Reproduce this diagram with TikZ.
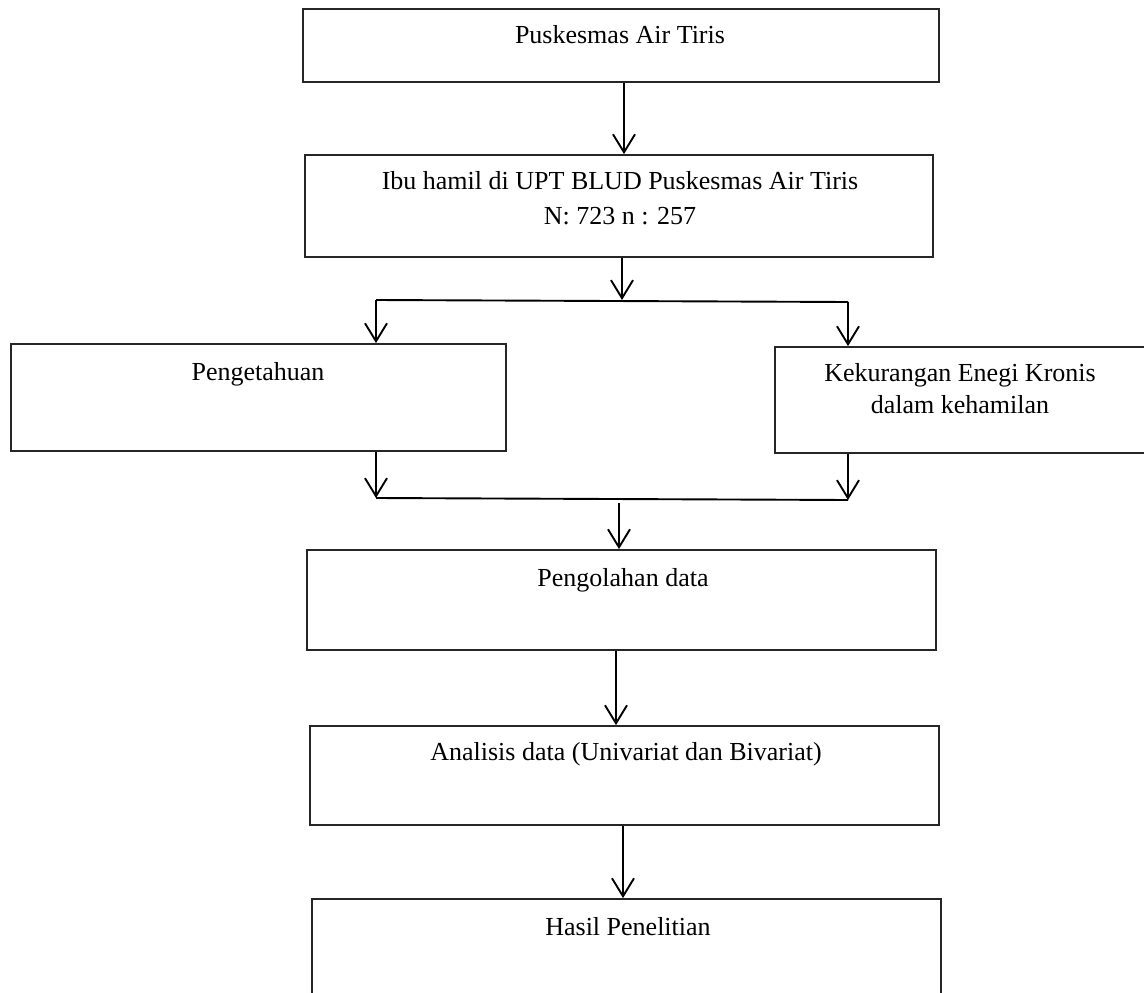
\documentclass[tikz,border=0pt]{standalone}
\usepackage{fontspec}
\setmainfont{Liberation Serif}
\usetikzlibrary{arrows.meta}
\begin{document}
\begin{tikzpicture}[x=1pt,y=-1pt,
  boxnode/.style={draw=black!85,line width=1.8pt,rectangle,inner sep=0pt},
  txt/.style={anchor=base,inner sep=0pt,align=center,font=\fontsize{26}{33}\selectfont},
  conn/.style={line width=1.9pt,black},
  arr/.style={conn,-{Straight Barb[length=18pt,width=22pt]}}]
\useasboundingbox (0,0) rectangle (1144,993);
\clip (0,0) rectangle (1144,993);
% boxes
\node[boxnode,minimum width=636pt,minimum height=73.5pt] (b1) at (621,45.5) {};
\node[boxnode,minimum width=628pt,minimum height=102pt] (b2) at (619,206) {};
\node[boxnode,minimum width=495pt,minimum height=107pt] (b3) at (258.5,397.5) {};
\node[boxnode,minimum width=375pt,minimum height=106pt] (b4) at (962.5,400) {};
\node[boxnode,minimum width=629pt,minimum height=100pt] (b5) at (621.5,600) {};
\node[boxnode,minimum width=629pt,minimum height=99pt] (b6) at (624.5,775.5) {};
\node[boxnode,minimum width=629pt,minimum height=121pt] (b7) at (626.5,959.5) {};
% texts (multi-line nodes: base = last line)
\node[txt] (t1) at (620,43) {Puskesmas Air Tiris};
\node[txt,font=\fontsize{26}{35}\selectfont] (t2) at (620,224) {Ibu hamil di UPT BLUD Puskesmas Air Tiris\\N: 723 n : 257};
\node[txt] (t3) at (258,380) {Pengetahuan};
\node[txt,font=\fontsize{26}{32}\selectfont] (t4) at (960,413) {Kekurangan Enegi Kronis\\dalam kehamilan};
\node[txt] (t5) at (623,586) {Pengolahan data};
\node[txt] (t6) at (626,760) {Analisis data (Univariat dan Bivariat)};
\node[txt] (t7) at (628,935.5) {Hasil Penelitian};
% junction points
\coordinate (j1) at (622,300);
\coordinate (bl) at (376,300);
\coordinate (br) at (848,302);
\coordinate (ml) at (376,498);
\coordinate (mr) at (848,500);
\coordinate (m0) at (619,503);
\coordinate (x1) at (624,0);
\coordinate (x8) at (616,0);
\coordinate (x9) at (623,0);
% connectors
\draw[arr] (x1 |- b1.south) -- (x1 |- b2.north);
\draw[arr] (j1 |- b2.south) -- (j1);
\draw[conn] (bl) -- (br);
\draw[arr] (bl) -- (bl |- b3.north);
\draw[arr] (br) -- (br |- b4.north);
\draw[arr] (bl |- b3.south) -- (ml);
\draw[arr] (br |- b4.south) -- (mr);
\draw[conn] (ml) -- (mr);
\draw[arr] (m0) -- (m0 |- b5.north);
\draw[arr] (x8 |- b5.south) -- (x8 |- b6.north);
\draw[arr] (x9 |- b6.south) -- (x9 |- b7.north);
\end{tikzpicture}
\end{document}
